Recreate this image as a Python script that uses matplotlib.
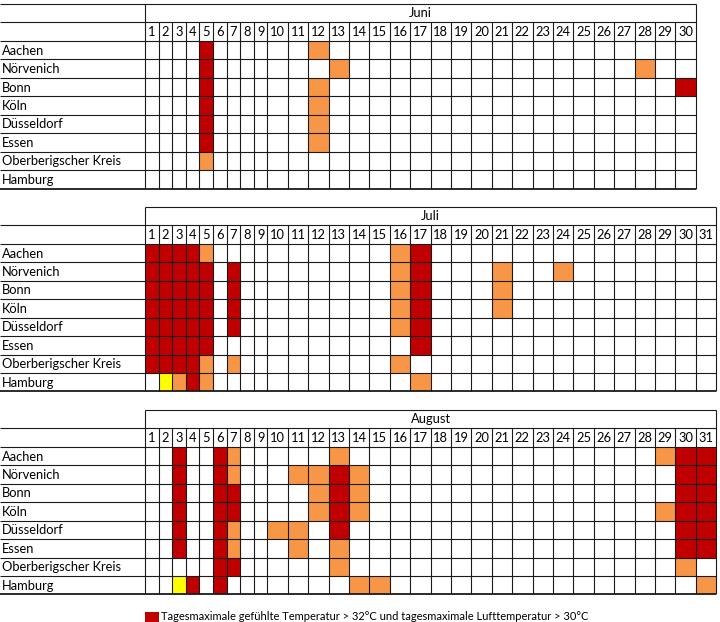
import matplotlib.pyplot as plt
from matplotlib.patches import Rectangle

stations = ['Aachen', 'Nörvenich', 'Bonn', 'Köln', 'Düsseldorf', 'Essen',
            'Oberberigscher Kreis', 'Hamburg']
months = ['Juni', 'Juli', 'August']
days_in_month = [30, 31, 31]

# r = rot, o = orange, y = gelb (Tage des Monats)
juni = {
    'Aachen': {'r': [5], 'o': [12]},
    'Nörvenich': {'r': [5], 'o': [13, 28]},
    'Bonn': {'r': [5, 30], 'o': [12]},
    'Köln': {'r': [5], 'o': [12]},
    'Düsseldorf': {'r': [5], 'o': [12]},
    'Essen': {'r': [5], 'o': [12]},
    'Oberberigscher Kreis': {'o': [5]},
    'Hamburg': {},
}
juli = {
    'Aachen': {'r': [1, 2, 3, 4, 17], 'o': [5, 16]},
    'Nörvenich': {'r': [1, 2, 3, 4, 5, 7, 17], 'o': [16, 21, 24]},
    'Bonn': {'r': [1, 2, 3, 4, 5, 7, 17], 'o': [16, 21]},
    'Köln': {'r': [1, 2, 3, 4, 5, 7, 17], 'o': [16, 21]},
    'Düsseldorf': {'r': [1, 2, 3, 4, 5, 7, 17], 'o': [16]},
    'Essen': {'r': [1, 2, 3, 4, 5, 17]},
    'Oberberigscher Kreis': {'r': [1, 2, 3, 4], 'o': [5, 7, 16]},
    'Hamburg': {'y': [2], 'r': [4], 'o': [3, 5, 17]},
}
august = {
    'Aachen': {'r': [3, 6, 30, 31], 'o': [7, 13, 29]},
    'Nörvenich': {'r': [3, 6, 13, 30, 31], 'o': [7, 11, 12, 14]},
    'Bonn': {'r': [3, 6, 7, 13, 30, 31], 'o': [12, 14]},
    'Köln': {'r': [3, 6, 7, 13, 30, 31], 'o': [12, 14, 29]},
    'Düsseldorf': {'r': [3, 6, 13, 30, 31], 'o': [7, 10, 11]},
    'Essen': {'r': [3, 6, 30, 31], 'o': [7, 11, 13]},
    'Oberberigscher Kreis': {'r': [6, 7], 'o': [13, 30]},
    'Hamburg': {'y': [3], 'r': [4, 6], 'o': [14, 15, 31]},
}
month_marks = [juni, juli, august]
colors = {'r': '#c00000', 'o': '#f79646', 'y': '#ffff00'}
legend_text = 'Tagesmaximale gefühlte Temperatur > 32°C und tagesmaximale Lufttemperatur > 30°C'

# Raster in Pixeln (wie Excel-Tabelle)
label_w = 145
narrow_w = 13.6
wide_w = 20.4
row_h = 18.45
top0 = 4

plt.rcParams['font.family'] = ['Lato', 'DejaVu Sans']
fs = 9.3
lc = '#1a1a1a'
lw = 0.8

fig = plt.figure(figsize=(7.2, 6.22), dpi=100)
ax = fig.add_axes([0, 0, 1, 1])
ax.set_xlim(0, 720)
ax.set_ylim(622, 0)
ax.axis('off')

for m, (name, ndays, marks) in enumerate(zip(months, days_in_month, month_marks)):
    top = top0 + m * 11 * row_h
    edges = [label_w]
    for d in range(1, ndays + 1):
        edges.append(edges[-1] + (narrow_w if d < 10 else wide_w))
    right = edges[-1]
    y_num = top + row_h
    y_data = top + 2 * row_h
    bottom = top + 10 * row_h

    for i, st in enumerate(stations):
        for code, days in marks[st].items():
            for d in days:
                ax.add_patch(Rectangle((edges[d - 1], y_data + i * row_h),
                                       edges[d] - edges[d - 1], row_h,
                                       fc=colors[code], ec='none'))

    ax.hlines(top, 0 if m == 0 else label_w, right, color=lc, lw=lw)
    for k in range(1, 10):
        ax.hlines(top + k * row_h, 0, right, color=lc, lw=lw)
    ax.hlines(bottom, 0, right, color=lc, lw=1.3)
    ax.vlines([label_w, right], top, bottom, color=lc, lw=lw)
    ax.vlines(edges[1:-1], y_num, bottom, color=lc, lw=lw)

    ax.text((label_w + right) / 2, top + row_h / 2, name, ha='center', va='center', fontsize=fs)
    for d in range(1, ndays + 1):
        ax.text((edges[d - 1] + edges[d]) / 2, y_num + row_h / 2 + 0.5, str(d),
                ha='center', va='center', fontsize=fs)
    for i, st in enumerate(stations):
        ax.text(2, y_data + (i + 0.5) * row_h + 0.5, st, ha='left', va='center', fontsize=fs)

leg_y = top0 + 33 * row_h - 1
ax.add_patch(Rectangle((label_w, leg_y), 14, 14, fc=colors['r'], ec='none'))
ax.text(label_w + 16, 616, legend_text, ha='left', va='center', fontsize=8)

fig.savefig('out.png', dpi=100)
